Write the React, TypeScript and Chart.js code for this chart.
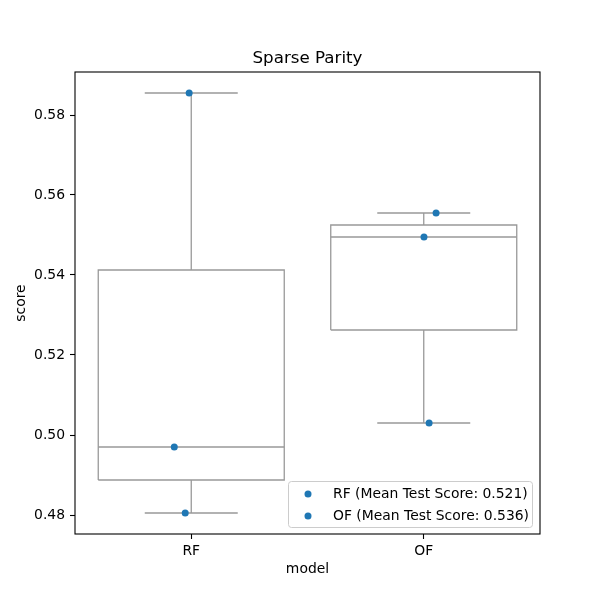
import React, { useEffect, useRef } from "react";
import { Chart, registerables } from "chart.js";

Chart.register(...registerables);

const categories = ["RF", "OF"];
const rfScores = [0.5855, 0.497, 0.4805];
const ofScores = [0.5555, 0.5495, 0.503];
const rfJitter = [-0.009, -0.073, -0.026];
const ofJitter = [0.053, 0.001, 0.023];
const yTicks = [0.48, 0.5, 0.52, 0.54, 0.56, 0.58];
const chartTitle = "Sparse Parity";

const seriesValues = [rfScores, ofScores];
const seriesJitter = [rfJitter, ofJitter];

const FONT = "'DejaVu Sans', sans-serif";
const BLUE = "#1f77b4";
const GRAY = "rgb(153,153,153)";

function percentile(vals: number[], p: number) {
  const s = [...vals].sort((a, b) => a - b);
  const idx = (s.length - 1) * p;
  const lo = Math.floor(idx);
  const hi = Math.ceil(idx);
  return s[lo] + (s[hi] - s[lo]) * (idx - lo);
}

function boxStats(vals: number[]) {
  const q1 = percentile(vals, 0.25);
  const med = percentile(vals, 0.5);
  const q3 = percentile(vals, 0.75);
  const iqr = q3 - q1;
  const inside = vals.filter((v) => v >= q1 - 1.5 * iqr && v <= q3 + 1.5 * iqr);
  return { q1, med, q3, lo: Math.min(...inside), hi: Math.max(...inside) };
}

const mean = (v: number[]) => v.reduce((a, b) => a + b, 0) / v.length;

export default function App() {
  const ref = useRef<HTMLCanvasElement>(null);
  useEffect(() => {
    document.body.style.margin = "0";
    const ctx = ref.current!;
    const datasets: any[] = [];
    const legendItems: string[] = [];
    seriesValues.forEach((vals, i) => {
      datasets.push({
        type: "scatter",
        label: categories[i],
        data: vals.map((v, j) => ({ x: i + seriesJitter[i][j], y: v })),
        backgroundColor: BLUE,
        borderWidth: 0,
        pointRadius: 3.5,
        order: 0,
      });
      legendItems.push(`${categories[i]} (Mean Test Score: ${mean(vals).toFixed(3)})`);
    });
    const hw = 0.4;
    const cw = 0.2;
    const line = (data: { x: number; y: number }[]) => ({
      type: "line",
      data,
      borderColor: GRAY,
      borderWidth: 1.3,
      pointRadius: 0,
      fill: false,
      tension: 0,
      order: 1,
    });
    seriesValues.forEach((vals, i) => {
      const s = boxStats(vals);
      datasets.push(
        line([
          { x: i - hw, y: s.q1 },
          { x: i + hw, y: s.q1 },
          { x: i + hw, y: s.q3 },
          { x: i - hw, y: s.q3 },
          { x: i - hw, y: s.q1 },
        ])
      );
      datasets.push(line([{ x: i - hw, y: s.med }, { x: i + hw, y: s.med }]));
      datasets.push(line([{ x: i, y: s.q1 }, { x: i, y: s.lo }]));
      datasets.push(line([{ x: i, y: s.q3 }, { x: i, y: s.hi }]));
      datasets.push(line([{ x: i - cw, y: s.lo }, { x: i + cw, y: s.lo }]));
      datasets.push(line([{ x: i - cw, y: s.hi }, { x: i + cw, y: s.hi }]));
    });

    const framePlugin = {
      id: "frame",
      afterDatasetsDraw(chart: any) {
        const { ctx: c, chartArea: a } = chart;
        c.save();
        c.strokeStyle = "#000";
        c.lineWidth = 1.1;
        c.strokeRect(a.left, a.top, a.right - a.left, a.bottom - a.top);
        // title
        c.fillStyle = "#000";
        c.font = `16.7px ${FONT}`;
        c.textAlign = "center";
        c.textBaseline = "alphabetic";
        c.fillText(chartTitle, (a.left + a.right) / 2, a.top - 9);
        // legend
        const w = 244, h = 46;
        const x0 = a.right - 8 - w, y0 = a.bottom - 7 - h;
        c.fillStyle = "rgba(255,255,255,0.8)";
        c.strokeStyle = "rgb(204,204,204)";
        c.lineWidth = 1;
        c.beginPath();
        c.roundRect(x0 + 0.5, y0 + 0.5, w, h, 3);
        c.fill();
        c.stroke();
        c.font = `13.9px ${FONT}`;
        c.textBaseline = "middle";
        c.textAlign = "left";
        legendItems.forEach((t, k) => {
          const yy = y0 + 13 + k * 22;
          c.fillStyle = BLUE;
          c.beginPath();
          c.arc(x0 + 20, yy, 3.5, 0, Math.PI * 2);
          c.fill();
          c.fillStyle = "#000";
          c.fillText(t, x0 + 45, yy);
        });
        c.restore();
      },
    };

    const chart = new Chart(ctx, {
      type: "scatter",
      data: { datasets },
      plugins: [framePlugin],
      options: {
        animation: false,
        responsive: false,
        layout: { padding: { left: 0, right: 60, top: 72, bottom: 0 } },
        plugins: {
          legend: { display: false },
          tooltip: { enabled: false },
          title: { display: false },
        },
        scales: {
          x: {
            type: "linear",
            min: -0.5,
            max: 1.5,
            afterBuildTicks: (s: any) => {
              s.ticks = categories.map((_, i) => ({ value: i }));
            },
            afterFit: (s: any) => {
              s.height = 66;
            },
            ticks: {
              color: "#000",
              font: { family: FONT, size: 13.9 },
              padding: 4,
              callback: (v: any) => categories[v as number] ?? "",
            },
            grid: { drawOnChartArea: false, tickLength: 5, color: "#000", tickWidth: 1.1 },
            border: { display: false },
            title: {
              display: true,
              text: "model",
              color: "#000",
              font: { family: FONT, size: 13.9 },
              padding: { top: 0, bottom: 22 },
            },
          },
          y: {
            type: "linear",
            min: 0.47525,
            max: 0.59075,
            afterBuildTicks: (s: any) => {
              s.ticks = yTicks.map((v) => ({ value: v }));
            },
            afterFit: (s: any) => {
              s.width = 75;
            },
            ticks: {
              color: "#000",
              font: { family: FONT, size: 13.9 },
              padding: 5,
              callback: (v: any) => Number(v).toFixed(2),
            },
            grid: { drawOnChartArea: false, tickLength: 5, color: "#000", tickWidth: 1.1 },
            border: { display: false },
            title: {
              display: true,
              text: "score",
              color: "#000",
              font: { family: FONT, size: 13.9 },
              padding: { top: 13, bottom: 0 },
            },
          },
        },
      } as any,
    });
    return () => chart.destroy();
  }, []);
  return <canvas ref={ref} width={600} height={600} style={{ display: "block" }} />;
}
